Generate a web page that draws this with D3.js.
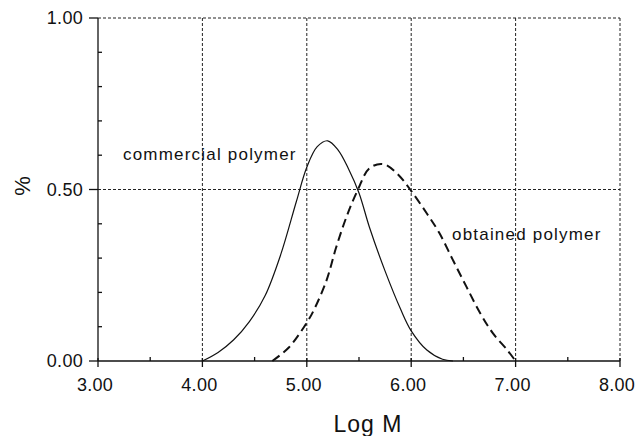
<!DOCTYPE html>
<html>
<head>
	<meta charset="utf-8">
	<title>Log M distribution</title>
	<script src="https://d3js.org/d3.v7.min.js"></script>
	<style>
		body { margin: 0; background: #fff; }
		text { font-family: Arial, "Liberation Sans", Helvetica, sans-serif; fill: #111; }
	</style>
</head>
<body>
	<script>
		var width = 637, height = 436;

		// tick labels
		var xTicks = [3, 4, 5, 6, 7, 8];
		var yTicks = [0, 0.5, 1];

		// commercial polymer (solid)
		var commX = [4.0, 4.15, 4.3, 4.45, 4.6, 4.75, 4.9, 5.0, 5.1, 5.2, 5.3, 5.4, 5.5, 5.6, 5.75, 5.9, 6.0, 6.15, 6.3, 6.4];
		var commY = [0, 0.025, 0.062, 0.115, 0.19, 0.31, 0.465, 0.565, 0.625, 0.642, 0.615, 0.56, 0.49, 0.39, 0.262, 0.15, 0.088, 0.032, 0.005, 0];

		// obtained polymer (dashed)
		var obtX = [4.67, 4.83, 5.0, 5.07, 5.19, 5.28, 5.38, 5.49, 5.6, 5.73, 5.86, 5.99, 6.15, 6.27, 6.4, 6.53, 6.66, 6.78, 6.92, 7.0];
		var obtY = [0, 0.04, 0.112, 0.15, 0.236, 0.33, 0.42, 0.5, 0.562, 0.574, 0.548, 0.5, 0.43, 0.373, 0.294, 0.216, 0.14, 0.082, 0.032, 0];

		var svg = d3.select("body").append("svg").attr("width", width).attr("height", height);

		var x = d3.scaleLinear().domain([3, 8]).range([98, 620]);
		var y = d3.scaleLinear().domain([0, 1]).range([361, 18]);

		// dotted grid
		var grid = svg.append("g").attr("stroke", "#222").attr("stroke-width", 1).attr("stroke-dasharray", "3,2");
		grid.selectAll("line.v").data([4, 5, 6, 7, 8]).enter().append("line")
			.attr("x1", function(d){return x(d);}).attr("x2", function(d){return x(d);})
			.attr("y1", y(0)).attr("y2", y(1));
		grid.selectAll("line.h").data([0.5, 1]).enter().append("line")
			.attr("x1", x(3)).attr("x2", x(8))
			.attr("y1", function(d){return y(d);}).attr("y2", function(d){return y(d);});

		// axes
		var ax = svg.append("g").attr("stroke", "#111").attr("stroke-width", 1.3);
		ax.append("line").attr("x1", x(3)).attr("x2", x(8)).attr("y1", y(0)).attr("y2", y(0));
		ax.append("line").attr("x1", x(3)).attr("x2", x(3)).attr("y1", y(0)).attr("y2", y(1));
		// x ticks
		ax.selectAll("line.xt").data(xTicks).enter().append("line")
			.attr("x1", function(d){return x(d);}).attr("x2", function(d){return x(d);})
			.attr("y1", y(0) - 3).attr("y2", y(0) + 6);
		ax.selectAll("line.xm").data(d3.range(3.5, 8, 1)).enter().append("line")
			.attr("x1", function(d){return x(d);}).attr("x2", function(d){return x(d);})
			.attr("y1", y(0)).attr("y2", y(0) - 4);
		// y ticks
		ax.selectAll("line.yt").data(yTicks).enter().append("line")
			.attr("x1", x(3) - 9).attr("x2", x(3))
			.attr("y1", function(d){return y(d);}).attr("y2", function(d){return y(d);});
		ax.selectAll("line.ym").data(d3.range(1, 10).map(function(i){return i / 10;}).filter(function(d){return d !== 0.5;})).enter().append("line")
			.attr("x1", x(3)).attr("x2", x(3) + 4)
			.attr("y1", function(d){return y(d);}).attr("y2", function(d){return y(d);});

		// tick labels
		svg.selectAll("text.xl").data(xTicks).enter().append("text")
			.attr("x", function(d){return x(d) - 3;}).attr("y", 391)
			.attr("text-anchor", "middle").attr("font-size", 18).attr("letter-spacing", 0.3)
			.text(function(d){return d3.format(".2f")(d);});
		svg.selectAll("text.yl").data(yTicks).enter().append("text")
			.attr("x", 83).attr("y", function(d){return y(d) + 6;})
			.attr("text-anchor", "end").attr("font-size", 18).attr("letter-spacing", 0.3)
			.text(function(d){return d3.format(".2f")(d);});

		// axis titles
		svg.append("text").attr("x", 368).attr("y", 432).attr("text-anchor", "middle")
			.attr("font-size", 23).attr("letter-spacing", 1).text("Log M");
		svg.append("text").attr("transform", "translate(30,186) rotate(-90)")
			.attr("text-anchor", "middle").attr("font-size", 22).text("%");

		// curves
		var line = d3.line().x(function(d){return x(d[0]);}).y(function(d){return y(d[1]);}).curve(d3.curveCatmullRom.alpha(0.5));
		svg.append("path").datum(d3.zip(commX, commY)).attr("d", line)
			.attr("fill", "none").attr("stroke", "#111").attr("stroke-width", 1.2);
		svg.append("path").datum(d3.zip(obtX, obtY)).attr("d", line)
			.attr("fill", "none").attr("stroke", "#111").attr("stroke-width", 2).attr("stroke-dasharray", "9,5");

		// labels
		svg.append("text").attr("x", 123).attr("y", 160).attr("font-size", 17).attr("letter-spacing", 1.2)
			.text("commercial polymer");
		svg.append("text").attr("x", 452).attr("y", 240).attr("font-size", 17).attr("letter-spacing", 1.2)
			.text("obtained polymer");
	</script>
</body>
</html>
